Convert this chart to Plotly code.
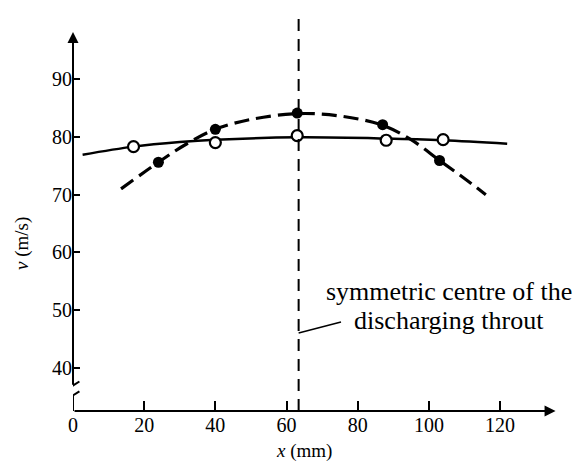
import plotly.graph_objects as go

# Data
open_x = [17, 40, 63, 88, 104]
open_y = [78.3, 79.0, 80.2, 79.4, 79.5]
filled_x = [24, 40, 63, 87, 103]
filled_y = [75.6, 81.3, 84.1, 82.1, 75.9]

solid_curve_x = [2.7, 17, 30, 40, 63, 88, 104, 122]
solid_curve_y = [76.9, 78.3, 79.1, 79.5, 79.9, 79.7, 79.4, 78.8]
dashed_curve_x = [13.5, 24, 32, 40, 50, 63, 75, 87, 95, 103, 110, 116]
dashed_curve_y = [71.0, 75.6, 78.8, 81.3, 83.0, 84.0, 83.6, 82.0, 79.5, 75.9, 72.8, 70.0]

centre_x = 63.4
x_ticks = [0, 20, 40, 60, 80, 100, 120]
x_tick_labels = ["0", "20", "40", "60", "80", "100", "120"]
y_ticks = [40, 50, 60, 70, 80, 90]
y_tick_labels = ["40", "50", "60", "70", "80", "90"]

X_RANGE = [0, 136]
Y_RANGE = [32.6, 101.4]
FONT = "Liberation Serif"

fig = go.Figure()
fig.add_trace(go.Scatter(x=solid_curve_x, y=solid_curve_y, mode="lines",
                         line=dict(color="black", width=2.5, shape="spline", smoothing=1.0),
                         showlegend=False, hoverinfo="skip"))
fig.add_trace(go.Scatter(x=dashed_curve_x, y=dashed_curve_y, mode="lines",
                         line=dict(color="black", width=3.2, dash="15px,7px", shape="spline", smoothing=1.0),
                         showlegend=False, hoverinfo="skip"))
fig.add_trace(go.Scatter(x=open_x, y=open_y, mode="markers",
                         marker=dict(symbol="circle", size=11, color="white",
                                     line=dict(color="black", width=2.2)),
                         showlegend=False))
fig.add_trace(go.Scatter(x=filled_x, y=filled_y, mode="markers",
                         marker=dict(symbol="circle", size=11, color="black"),
                         showlegend=False))

# vertical dashed centre line
fig.add_shape(type="line", xref="x", yref="y", x0=centre_x, x1=centre_x,
              y0=Y_RANGE[0], y1=Y_RANGE[1], line=dict(color="black", width=2, dash="12px,8px"))
# leader line
fig.add_shape(type="line", xref="x", yref="y", x0=centre_x, x1=75.3, y0=46.1, y1=48.0,
              line=dict(color="black", width=1.5))

# y-axis (broken) and x-axis with arrows
fig.add_shape(type="line", xref="x", yref="y", x0=0, x1=0, y0=Y_RANGE[0], y1=35.3,
              line=dict(color="black", width=2))
fig.add_annotation(x=0, y=98.1, ax=0, ay=36.9, xref="x", yref="y", axref="x", ayref="y",
                   showarrow=True, arrowhead=2, arrowsize=1.1, arrowwidth=2, arrowcolor="black", text="")
fig.add_annotation(x=135.6, y=Y_RANGE[0], ax=0, ay=Y_RANGE[0], xref="x", yref="y", axref="x", ayref="y",
                   showarrow=True, arrowhead=2, arrowsize=1.1, arrowwidth=2, arrowcolor="black", text="")
# break marks
for yb in [34.6, 36.3]:
    fig.add_shape(type="line", xref="x", yref="y", x0=-1.8, x1=1.8, y0=yb, y1=yb + 1.4,
                  line=dict(color="black", width=2))

fig.add_annotation(x=70.5, y=53.2, xref="x", yref="y", xanchor="left", yanchor="middle",
                   text="symmetric centre of the", showarrow=False,
                   font=dict(family=FONT, size=26, color="black"))
fig.add_annotation(x=78.4, y=48.3, xref="x", yref="y", xanchor="left", yanchor="middle",
                   text="discharging throut", showarrow=False,
                   font=dict(family=FONT, size=26, color="black"))

fig.add_annotation(x=-0.105, y=0.42, xref="paper", yref="paper", textangle=-90,
                   xanchor="center", yanchor="middle",
                   text="<i>v</i> (m/s)", showarrow=False,
                   font=dict(family=FONT, size=19, color="black"))
fig.add_annotation(x=0.477, y=-0.1, xref="paper", yref="paper",
                   xanchor="center", yanchor="middle",
                   text="<i>x</i> (mm)", showarrow=False,
                   font=dict(family=FONT, size=19, color="black"))

fig.update_xaxes(range=X_RANGE, showgrid=False, zeroline=False, showline=False,
                 ticks="inside", ticklen=10, tickwidth=1.5, tickcolor="black",
                 tickvals=x_ticks, ticktext=x_tick_labels, ticklabelstandoff=0,
                 automargin=False,
                 tickfont=dict(family=FONT, size=20, color="black"))
fig.update_yaxes(range=Y_RANGE, showgrid=False, zeroline=False, showline=False,
                 ticks="inside", ticklen=7, tickwidth=1.5, tickcolor="black",
                 tickvals=y_ticks, ticktext=y_tick_labels, ticklabelstandoff=0,
                 automargin=False,
                 tickfont=dict(family=FONT, size=20, color="black"))
fig.update_layout(width=583, height=465, margin=dict(l=73, r=26, t=13, b=54),
                  plot_bgcolor="white", paper_bgcolor="white")
fig.write_html("out.html", config={"displayModeBar": False},
               post_script="document.body.style.margin='0px';")
